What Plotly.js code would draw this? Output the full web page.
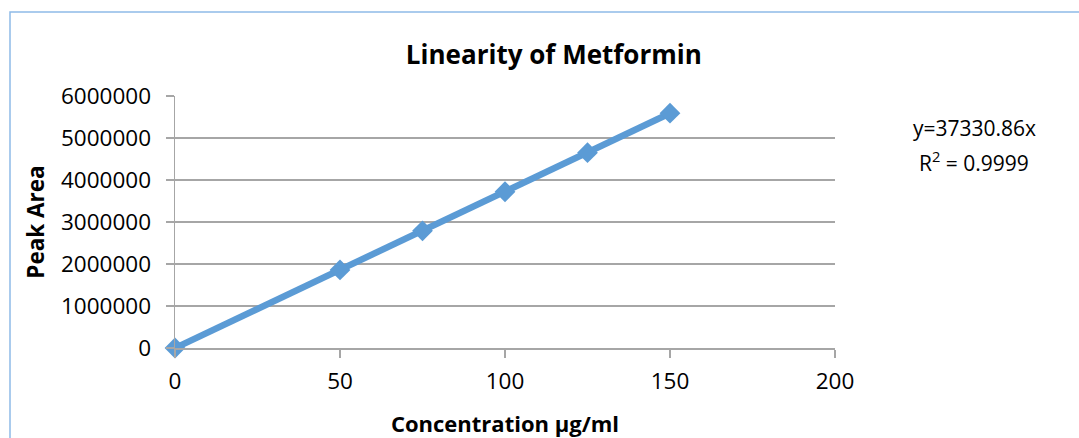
<!DOCTYPE html>
<html>
<head>
<meta charset="utf-8">
<script src="https://cdn.plot.ly/plotly-3.0.1.min.js"></script>
<style>html,body{margin:0;padding:0;background:#fff;}#chart{width:1079px;height:438px;}</style>
</head>
<body>
<div id="chart"></div>
<script>
const concentration = [0, 50, 75, 100, 125, 150];
const peakArea = [0, 1860000, 2790000, 3720000, 4650000, 5590000];
const yTicks = [0, 1000000, 2000000, 3000000, 4000000, 5000000, 6000000];
const xTicks = [0, 50, 100, 150, 200];
const equationLine = "y=37330.86x";
const r2Line = "R<sup>2</sup> = 0.9999";

const FONT = "Open Sans, Calibri, Carlito, sans-serif";

const trace = {
  x: concentration,
  y: peakArea,
  type: "scatter",
  mode: "lines+markers",
  line: {color: "#5B9BD5", width: 6.5},
  marker: {symbol: "diamond", size: 16, color: "#5B9BD5"},
  showlegend: false,
  hoverinfo: "skip",
  cliponaxis: false
};

const layout = {
  width: 1079,
  height: 438,
  margin: {l: 175, r: 244, t: 96, b: 90, pad: 0},
  paper_bgcolor: "#ffffff",
  plot_bgcolor: "#ffffff",
  font: {family: FONT, color: "#000000", size: 20},
  title: {
    text: "<b>Linearity of Metformin</b>",
    font: {family: FONT, size: 26, color: "#000000"},
    x: 0.574, xref: "paper", xanchor: "center",
    y: 0.875, yref: "container", yanchor: "middle"
  },
  xaxis: {
    range: [0, 200],
    tickvals: xTicks,
    ticktext: xTicks.map(String),
    showgrid: false,
    zeroline: false,
    showline: true,
    linecolor: "#A6A6A6",
    linewidth: 1.5,
    ticks: "outside",
    ticklen: 8,
    tickcolor: "#A6A6A6",
    tickwidth: 1.5,
    ticklabelstandoff: 4,
    tickfont: {family: FONT, size: 22.5, color: "#000000"},
    title: {text: "<b>Concentration µg/ml</b>", font: {family: FONT, size: 22, color: "#000000"}, standoff: 24},
    fixedrange: true
  },
  yaxis: {
    range: [0, 6000000],
    tickvals: yTicks,
    ticktext: yTicks.map(String),
    showgrid: true,
    gridcolor: "#A6A6A6",
    gridwidth: 1.5,
    zeroline: false,
    showline: true,
    linecolor: "#A6A6A6",
    linewidth: 1.5,
    ticks: "outside",
    ticklen: 8,
    tickcolor: "#A6A6A6",
    tickwidth: 1.5,
    ticklabelstandoff: 10,
    tickfont: {family: FONT, size: 22.5, color: "#000000"},
    title: {text: "<b>Peak Area</b>", font: {family: FONT, size: 22.5, color: "#000000"}, standoff: 10},
    fixedrange: true
  },
  annotations: [{
    text: equationLine,
    xref: "paper", yref: "paper",
    x: 1.211, y: 0.873,
    xanchor: "center", yanchor: "middle",
    showarrow: false,
    font: {family: FONT, size: 21, color: "#000000"}
  }, {
    text: r2Line,
    xref: "paper", yref: "paper",
    x: 1.211, y: 0.742,
    xanchor: "center", yanchor: "middle",
    showarrow: false,
    font: {family: FONT, size: 21, color: "#000000"}
  }],
  shapes: [{
    type: "rect",
    xref: "paper", yref: "paper",
    x0: -0.25, x1: 2.0, y0: -1.0, y1: 1.3333,
    line: {color: "#8EBBE8", width: 1.5},
    fillcolor: "rgba(0,0,0,0)",
    layer: "below"
  }]
};

Plotly.newPlot("chart", [trace], layout, {displayModeBar: false, staticPlot: true});
</script>
</body>
</html>
